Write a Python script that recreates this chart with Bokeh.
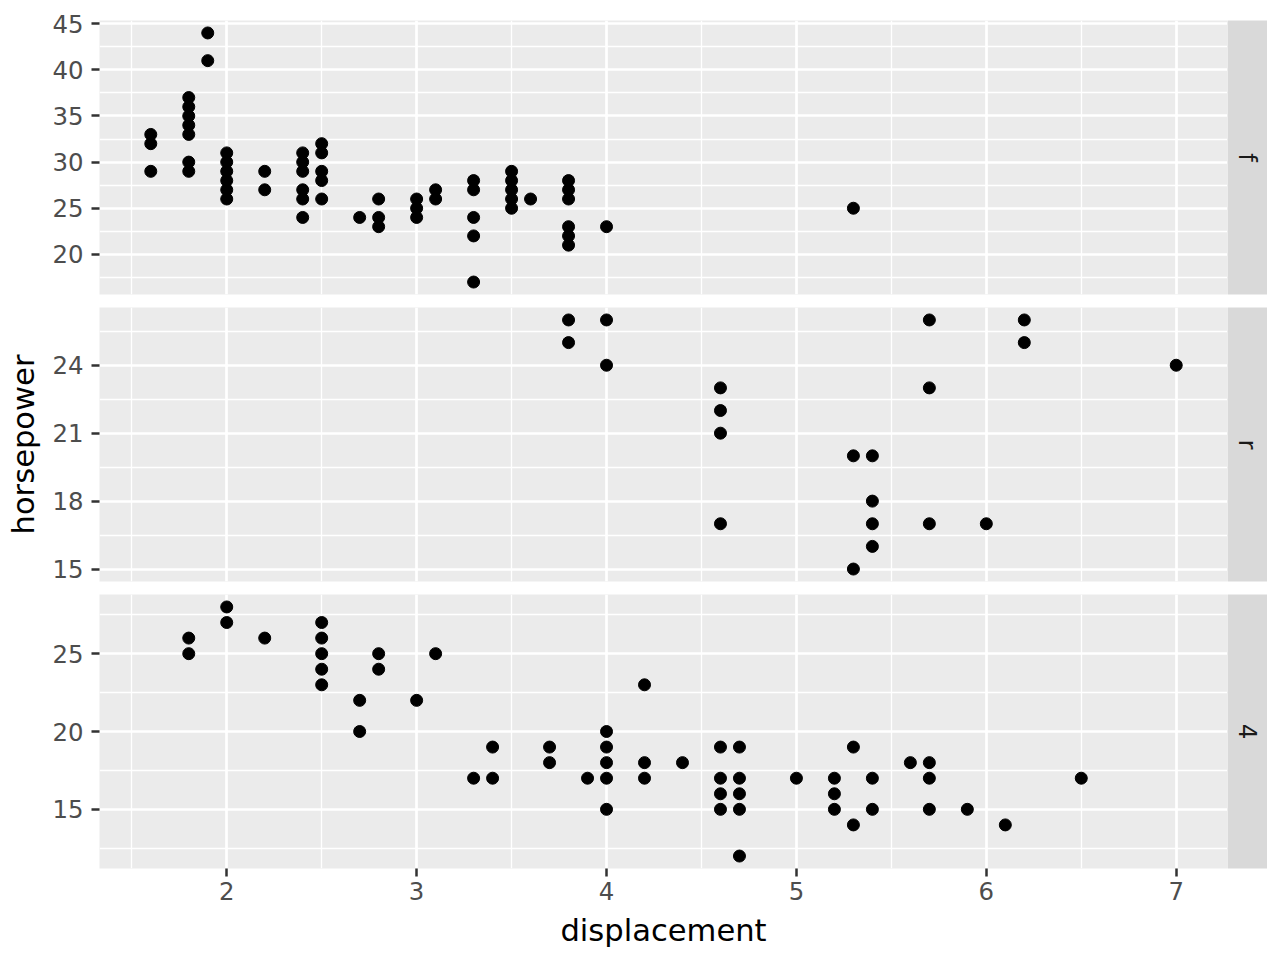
import math
from bokeh.plotting import figure
from bokeh.layouts import gridplot
from bokeh.models import Range1d, FixedTicker
from bokeh.embed import file_html
from bokeh.resources import INLINE
from bokeh.core.properties import value

# ---- data (displacement vs highway mpg, faceted by drive) ----
panel_labels = ["f", "r", "4"]

f_displ = [1.6, 1.6, 1.6,
           1.8, 1.8, 1.8, 1.8, 1.8, 1.8, 1.8,
           1.9, 1.9,
           2.0, 2.0, 2.0, 2.0, 2.0, 2.0,
           2.2, 2.2,
           2.4, 2.4, 2.4, 2.4, 2.4, 2.4,
           2.5, 2.5, 2.5, 2.5, 2.5,
           2.7,
           2.8, 2.8, 2.8,
           3.0, 3.0, 3.0,
           3.1, 3.1,
           3.3, 3.3, 3.3, 3.3, 3.3,
           3.5, 3.5, 3.5, 3.5, 3.5,
           3.6,
           3.8, 3.8, 3.8, 3.8, 3.8, 3.8,
           4.0,
           5.3]
f_hwy = [33, 32, 29,
         37, 36, 35, 34, 33, 30, 29,
         44, 41,
         31, 30, 29, 28, 27, 26,
         29, 27,
         31, 30, 29, 27, 26, 24,
         32, 31, 29, 28, 26,
         24,
         26, 24, 23,
         26, 25, 24,
         27, 26,
         28, 27, 24, 22, 17,
         29, 28, 27, 26, 25,
         26,
         28, 27, 26, 23, 22, 21,
         23,
         25]

r_displ = [3.8, 3.8, 4.0, 4.0, 4.6, 4.6, 4.6, 4.6, 5.3, 5.3,
           5.4, 5.4, 5.4, 5.4, 5.7, 5.7, 5.7, 6.0, 6.2, 6.2, 7.0]
r_hwy = [26, 25, 26, 24, 23, 22, 21, 17, 20, 15,
         20, 18, 17, 16, 26, 23, 17, 17, 26, 25, 24]

d4_displ = [1.8, 1.8, 2.0, 2.0, 2.2,
            2.5, 2.5, 2.5, 2.5, 2.5,
            2.7, 2.7, 2.8, 2.8, 3.0, 3.1, 3.3, 3.4, 3.4, 3.7, 3.7, 3.9,
            4.0, 4.0, 4.0, 4.0, 4.0,
            4.2, 4.2, 4.2, 4.4,
            4.6, 4.6, 4.6, 4.6,
            4.7, 4.7, 4.7, 4.7, 4.7,
            5.0, 5.2, 5.2, 5.2, 5.3, 5.3, 5.4, 5.4, 5.6,
            5.7, 5.7, 5.7, 5.9, 6.1, 6.5]
d4_hwy = [26, 25, 28, 27, 26,
          27, 26, 25, 24, 23,
          22, 20, 25, 24, 22, 25, 17, 19, 17, 19, 18, 17,
          20, 19, 18, 17, 15,
          23, 18, 17, 18,
          19, 17, 16, 15,
          19, 17, 16, 15, 12,
          17, 17, 16, 15, 19, 14, 17, 15, 18,
          18, 17, 15, 15, 14, 17]

x_ticks = [2, 3, 4, 5, 6, 7]
x_minor = [1.5, 2.5, 3.5, 4.5, 5.5, 6.5]
f_yticks = [20, 25, 30, 35, 40, 45]
f_yminor = [17.5, 22.5, 27.5, 32.5, 37.5, 42.5]
r_yticks = [15, 18, 21, 24]
r_yminor = [16.5, 19.5, 22.5, 25.5]
d4_yticks = [15, 20, 25]
d4_yminor = [12.5, 17.5, 22.5, 27.5]

FONT = "DejaVu Sans"
all_x = f_displ + r_displ + d4_displ


def expand(vals, mult=0.05):
    lo, hi = min(vals), max(vals)
    span = hi - lo
    return lo - mult * span, hi + mult * span


xlo, xhi = expand(all_x)

FRAME_H = 274
LEFT = 99
FRAME_W = 1128


def make_panel(xs, ys, yticks, yminor, top_b, bot_b, show_x, ylabel):
    ylo, yhi = expand(ys)
    p = figure(width=LEFT + FRAME_W, height=top_b + FRAME_H + bot_b,
               x_range=Range1d(xlo, xhi), y_range=Range1d(ylo, yhi),
               output_backend="svg", toolbar_location=None,
               x_axis_location="below" if show_x else None,
               min_border_left=LEFT, min_border_right=0,
               min_border_top=top_b, min_border_bottom=bot_b,
               background_fill_color="#EBEBEB", border_fill_color="white",
               outline_line_color=None)
    p.xgrid.ticker = FixedTicker(ticks=x_ticks, minor_ticks=x_minor)
    p.ygrid.ticker = FixedTicker(ticks=yticks, minor_ticks=yminor)
    for g in (p.xgrid, p.ygrid):
        g.grid_line_color = "white"
        g.grid_line_width = 2.7
        g.minor_grid_line_color = "white"
        g.minor_grid_line_width = 1.3
    axes = list(p.yaxis) + (list(p.xaxis) if show_x else [])
    for ax in axes:
        ax.axis_line_color = None
        ax.major_tick_line_color = "#333333"
        ax.major_tick_line_width = 2.5
        ax.major_tick_out = 8
        ax.major_tick_in = 0
        ax.minor_tick_line_color = None
        ax.major_label_text_font = FONT
        ax.major_label_text_font_size = "24.4px"
        ax.major_label_text_color = "#4D4D4D"
        ax.axis_label_text_font = FONT
        ax.axis_label_text_font_size = "30.6px"
        ax.axis_label_text_font_style = "normal"
        ax.axis_label_text_color = "black"
    p.yaxis.ticker = FixedTicker(ticks=yticks)
    p.yaxis.major_label_standoff = 8
    if ylabel:
        p.yaxis.axis_label = ylabel
        p.yaxis.axis_label_standoff = 8
    if show_x:
        p.xaxis.ticker = FixedTicker(ticks=x_ticks)
        p.xaxis.major_label_standoff = 5
        p.xaxis.axis_label = "displacement"
        p.xaxis.axis_label_standoff = 10
    p.scatter(xs, ys, size=12, color="black")
    return p


def make_strip(label, top_b, bot_b):
    s = figure(width=40, height=top_b + FRAME_H + bot_b,
               x_range=Range1d(-1, 1), y_range=Range1d(-1, 1),
               output_backend="svg", toolbar_location=None,
               x_axis_location=None, y_axis_location=None,
               min_border_left=0, min_border_right=0,
               min_border_top=top_b, min_border_bottom=bot_b,
               background_fill_color="#D9D9D9", border_fill_color="white",
               outline_line_color=None)
    s.grid.visible = False
    s.text(x=[0], y=[0], text=[label], angle=-math.pi / 2,
           text_align="center", text_baseline="middle",
           text_font=value(FONT), text_font_size="24.4px",
           text_color="#1A1A1A")
    return s


p1 = make_panel(f_displ, f_hwy, f_yticks, f_yminor, 20, 6, False, None)
p2 = make_panel(r_displ, r_hwy, r_yticks, r_yminor, 7, 6, False, "horsepower")
p3 = make_panel(d4_displ, d4_hwy, d4_yticks, d4_yminor, 7, 88, True, None)
s1 = make_strip(panel_labels[0], 20, 6)
s2 = make_strip(panel_labels[1], 7, 6)
s3 = make_strip(panel_labels[2], 7, 88)

layout = gridplot([[p1, s1], [p2, s2], [p3, s3]], toolbar_location=None)

open("out.html", "w").write(file_html(layout, INLINE))
